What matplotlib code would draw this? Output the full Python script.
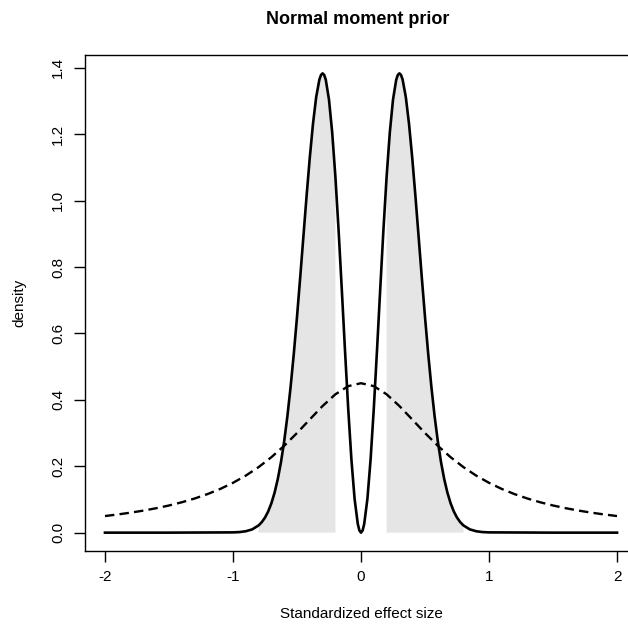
import numpy as np
import matplotlib.pyplot as plt

plt.rcParams['font.family'] = ['Liberation Sans', 'DejaVu Sans']

# right half of the symmetric curves
nmomX = [0.0, 0.0125, 0.025, 0.05, 0.075, 0.1, 0.125, 0.15, 0.175, 0.2, 0.225,
         0.25, 0.275, 0.2875, 0.3, 0.3125, 0.325, 0.35, 0.375, 0.4, 0.425, 0.45,
         0.475, 0.5, 0.525, 0.55, 0.575, 0.6, 0.625, 0.65, 0.675, 0.7, 0.725,
         0.75, 0.775, 0.8, 0.85, 0.9, 0.95, 1.0, 1.5, 2.0]
nmomY = [0.0, 0.0065, 0.0259, 0.1016, 0.2208, 0.3740, 0.5489, 0.7323, 0.9107,
         1.0718, 1.2054, 1.3042, 1.3640, 1.3788, 1.3836, 1.3788, 1.3650, 1.3125,
         1.2318, 1.1301, 1.0146, 0.8919, 0.7686, 0.6496, 0.5387, 0.4387, 0.3508,
         0.2756, 0.2127, 0.1615, 0.1206, 0.0885, 0.0639, 0.0454, 0.0317, 0.0218,
         0.0098, 0.0042, 0.0017, 0.0008, 0.0, 0.0]

cauchyX = [0.0, 0.1, 0.2, 0.3, 0.4, 0.5, 0.6, 0.7, 0.8, 0.9, 1.0,
           1.1, 1.2, 1.3, 1.4, 1.5, 1.6, 1.7, 1.8, 1.9, 2.0]
cauchyY = [0.4502, 0.4413, 0.4168, 0.3815, 0.3410, 0.3001, 0.2617, 0.2273,
           0.1974, 0.1718, 0.1501, 0.1316, 0.1160, 0.1028, 0.0915, 0.0818,
           0.0736, 0.0664, 0.0602, 0.0548, 0.0500]

shadeLo, shadeHi = 0.2, 0.8
xTicks = [-2, -1, 0, 1, 2]
yTicks = [0.0, 0.2, 0.4, 0.6, 0.8, 1.0, 1.2, 1.4]


def mirror(xs, ys):
    xs = np.array(xs)
    ys = np.array(ys)
    return np.concatenate([-xs[:0:-1], xs]), np.concatenate([ys[:0:-1], ys])


x1, y1 = mirror(nmomX, nmomY)
x2, y2 = mirror(cauchyX, cauchyY)

W, H = 628, 627
fig = plt.figure(figsize=(W / 100, H / 100), dpi=100)
left, right, top, bottom = 84.5, 637.5, 55, 551
ax = fig.add_axes([left / W, 1 - bottom / H, (right - left) / W, (bottom - top) / H])

mask = (np.abs(x1) >= shadeLo) & (np.abs(x1) <= shadeHi)
ax.fill_between(x1, 0, y1, where=mask, color='#e5e5e5', lw=0)
ax.plot(x1, y1, color='black', lw=1.9, solid_joinstyle='round')
ax.plot(x2, y2, color='black', lw=1.7, dashes=(4.0, 2.2))

ax.set_xlim(-2.16, 2.16)
ax.set_ylim(-0.0553, 1.4389)
ax.set_xticks(xTicks)
ax.set_xticklabels([str(t) for t in xTicks])
ax.set_yticks(yTicks)
ax.set_yticklabels([f'{t:.1f}' for t in yTicks], rotation=90, va='center')
ax.tick_params(length=8, width=1, labelsize=11, pad=6, colors='black')
for s in ax.spines.values():
    s.set_linewidth(1)

ax.set_xlabel('Standardized effect size', fontsize=11, labelpad=16)
ax.set_ylabel('density', fontsize=11, labelpad=18)
fig.text(358 / W, 1 - 19 / H, 'Normal moment prior',
         ha='center', va='center', fontsize=13, fontweight='bold')

fig.savefig('out.png', dpi=100)
